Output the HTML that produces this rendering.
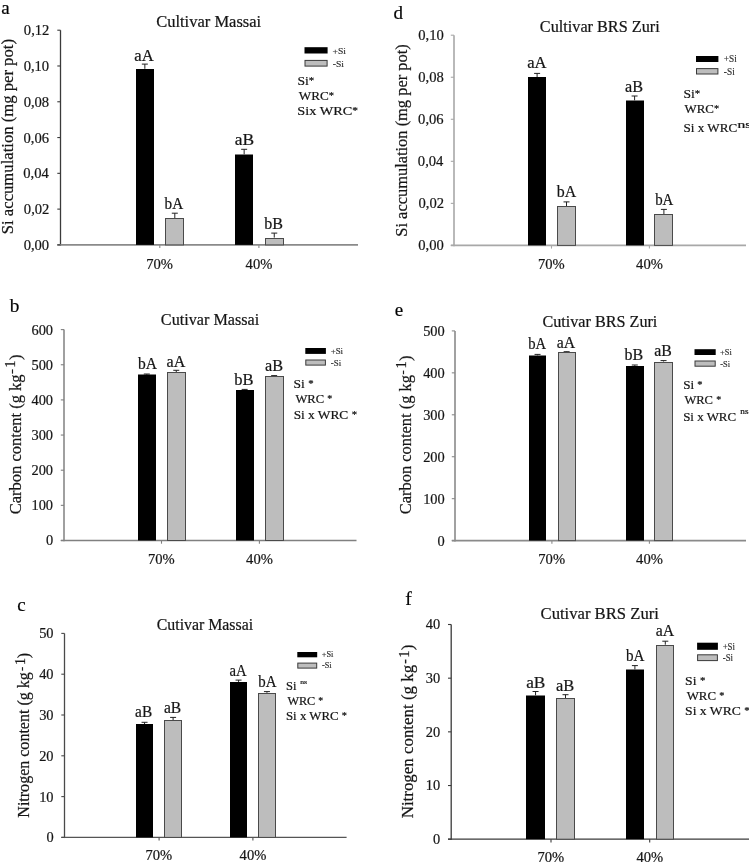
<!DOCTYPE html>
<html><head><meta charset="utf-8"><title>Figure</title>
<style>
html,body{margin:0;padding:0;background:#fff;}
body{width:749px;height:863px;overflow:hidden;}
svg{display:block;filter:blur(0.4px);}
text{white-space:pre;stroke:#1a1a1a;stroke-width:0.22px;}
</style></head><body>
<svg width="749" height="863" viewBox="0 0 749 863">
<rect width="749" height="863" fill="#fff"/>
<line x1="60.50" y1="30.20" x2="60.50" y2="245.55" stroke="#3a3a3a" stroke-width="1.3"/>
<line x1="57.30" y1="244.90" x2="358.00" y2="244.90" stroke="#8a8a8a" stroke-width="1.6"/>
<line x1="57.30" y1="244.90" x2="60.50" y2="244.90" stroke="#3a3a3a" stroke-width="1.1"/>
<text x="23.63" y="249.92" font-family="'Liberation Serif', serif" font-size="14.60" fill="#151515">0,00</text>
<line x1="57.30" y1="209.12" x2="60.50" y2="209.12" stroke="#3a3a3a" stroke-width="1.1"/>
<text x="23.85" y="214.13" font-family="'Liberation Serif', serif" font-size="14.60" fill="#151515">0,02</text>
<line x1="57.30" y1="173.33" x2="60.50" y2="173.33" stroke="#3a3a3a" stroke-width="1.1"/>
<text x="23.27" y="178.35" font-family="'Liberation Serif', serif" font-size="14.60" fill="#151515">0,04</text>
<line x1="57.30" y1="137.55" x2="60.50" y2="137.55" stroke="#3a3a3a" stroke-width="1.1"/>
<text x="23.49" y="142.57" font-family="'Liberation Serif', serif" font-size="14.60" fill="#151515">0,06</text>
<line x1="57.30" y1="101.77" x2="60.50" y2="101.77" stroke="#3a3a3a" stroke-width="1.1"/>
<text x="23.63" y="106.78" font-family="'Liberation Serif', serif" font-size="14.60" fill="#151515">0,08</text>
<line x1="57.30" y1="65.98" x2="60.50" y2="65.98" stroke="#3a3a3a" stroke-width="1.1"/>
<text x="23.63" y="71.00" font-family="'Liberation Serif', serif" font-size="14.60" fill="#151515">0,10</text>
<line x1="57.30" y1="30.20" x2="60.50" y2="30.20" stroke="#3a3a3a" stroke-width="1.1"/>
<text x="23.85" y="35.22" font-family="'Liberation Serif', serif" font-size="14.60" fill="#151515">0,12</text>
<line x1="159.80" y1="244.90" x2="159.80" y2="248.10" stroke="#8a8a8a" stroke-width="1.1"/>
<line x1="258.90" y1="244.90" x2="258.90" y2="248.10" stroke="#8a8a8a" stroke-width="1.1"/>
<text x="146.19" y="268.80" font-family="'Liberation Serif', serif" font-size="14.60" fill="#151515">70%</text>
<text x="245.61" y="268.80" font-family="'Liberation Serif', serif" font-size="14.60" fill="#151515">40%</text>
<line x1="144.85" y1="64.10" x2="144.85" y2="68.80" stroke="#222" stroke-width="1"/>
<line x1="141.85" y1="64.10" x2="147.85" y2="64.10" stroke="#222" stroke-width="1"/>
<rect x="136.00" y="69.00" width="18.00" height="175.90" fill="#000"/>
<text transform="translate(134.37,60.90) scale(1.0198,1)" font-family="'Liberation Serif', serif" font-size="16.30" fill="#151515">aA</text>
<line x1="174.80" y1="213.20" x2="174.80" y2="218.00" stroke="#222" stroke-width="1"/>
<line x1="171.80" y1="213.20" x2="177.80" y2="213.20" stroke="#222" stroke-width="1"/>
<rect x="165.50" y="218.50" width="18.00" height="26.40" fill="#bdbdbd" stroke="#4a4a4a" stroke-width="1"/>
<text transform="translate(164.55,208.60) scale(0.9341,1)" font-family="'Liberation Serif', serif" font-size="16.30" fill="#151515">bA</text>
<line x1="244.15" y1="149.30" x2="244.15" y2="154.30" stroke="#222" stroke-width="1"/>
<line x1="241.15" y1="149.30" x2="247.15" y2="149.30" stroke="#222" stroke-width="1"/>
<rect x="235.00" y="154.50" width="18.00" height="90.40" fill="#000"/>
<text transform="translate(234.74,144.50) scale(1.0662,1)" font-family="'Liberation Serif', serif" font-size="16.30" fill="#151515">aB</text>
<line x1="274.25" y1="233.10" x2="274.25" y2="237.60" stroke="#222" stroke-width="1"/>
<line x1="271.25" y1="233.10" x2="277.25" y2="233.10" stroke="#222" stroke-width="1"/>
<rect x="265.50" y="238.50" width="18.00" height="6.40" fill="#bdbdbd" stroke="#4a4a4a" stroke-width="1"/>
<text transform="translate(264.15,228.60) scale(0.986,1)" font-family="'Liberation Serif', serif" font-size="16.30" fill="#151515">bB</text>
<text transform="translate(156.14,26.70) scale(1.0075,1.0)" font-family="'Liberation Serif', serif" font-size="16.40" fill="#151515">Cultivar Massai</text>
<rect x="304.50" y="47.20" width="23.10" height="6.30" fill="#000"/>
<rect x="305.00" y="60.40" width="22.10" height="5.70" fill="#bdbdbd" stroke="#3a3a3a" stroke-width="1"/>
<text transform="translate(332.51,54.00) scale(1.0,0.85)" font-family="'Liberation Serif', serif" font-size="9.70" fill="#333" style="stroke-width:0.15px">+Si</text>
<text transform="translate(332.66,66.50) scale(1.0,0.85)" font-family="'Liberation Serif', serif" font-size="9.70" fill="#333" style="stroke-width:0.15px">-Si</text>
<text transform="translate(297.41,84.80) scale(1.1090,1)" font-family="'Liberation Serif', serif" font-size="12.30" fill="#151515">Si<tspan font-size="9.84" dy="-0.86">*</tspan></text>
<text transform="translate(298.80,99.80) scale(1.0695,1)" font-family="'Liberation Serif', serif" font-size="12.30" fill="#151515">WRC<tspan font-size="9.84" dy="-0.86">*</tspan></text>
<text transform="translate(297.37,115.30) scale(1.1629,1)" font-family="'Liberation Serif', serif" font-size="12.30" fill="#151515">Six WRC<tspan font-size="9.84" dy="-0.86">*</tspan></text>
<text x="1.33" y="13.50" font-family="'Liberation Serif', serif" font-size="19.00" fill="#000">a</text>
<text transform="translate(12.70,234.18) rotate(-90) scale(1.0010,1.000)" x="0" y="0" font-family="'Liberation Serif', serif" font-size="16.65" fill="#151515">Si accumulation (mg per pot)</text>
<line x1="454.00" y1="35.20" x2="454.00" y2="246.20" stroke="#a8a8a8" stroke-width="1.6"/>
<line x1="450.80" y1="245.40" x2="746.00" y2="245.40" stroke="#a8a8a8" stroke-width="1.6"/>
<line x1="450.80" y1="245.40" x2="454.00" y2="245.40" stroke="#a8a8a8" stroke-width="1.1"/>
<text x="418.23" y="250.42" font-family="'Liberation Serif', serif" font-size="14.60" fill="#151515">0,00</text>
<line x1="450.80" y1="203.36" x2="454.00" y2="203.36" stroke="#a8a8a8" stroke-width="1.1"/>
<text x="418.45" y="208.38" font-family="'Liberation Serif', serif" font-size="14.60" fill="#151515">0,02</text>
<line x1="450.80" y1="161.32" x2="454.00" y2="161.32" stroke="#a8a8a8" stroke-width="1.1"/>
<text x="417.87" y="166.34" font-family="'Liberation Serif', serif" font-size="14.60" fill="#151515">0,04</text>
<line x1="450.80" y1="119.28" x2="454.00" y2="119.28" stroke="#a8a8a8" stroke-width="1.1"/>
<text x="418.09" y="124.30" font-family="'Liberation Serif', serif" font-size="14.60" fill="#151515">0,06</text>
<line x1="450.80" y1="77.24" x2="454.00" y2="77.24" stroke="#a8a8a8" stroke-width="1.1"/>
<text x="418.23" y="82.26" font-family="'Liberation Serif', serif" font-size="14.60" fill="#151515">0,08</text>
<line x1="450.80" y1="35.20" x2="454.00" y2="35.20" stroke="#a8a8a8" stroke-width="1.1"/>
<text x="418.23" y="40.22" font-family="'Liberation Serif', serif" font-size="14.60" fill="#151515">0,10</text>
<line x1="551.50" y1="245.40" x2="551.50" y2="248.60" stroke="#a8a8a8" stroke-width="1.1"/>
<line x1="649.40" y1="245.40" x2="649.40" y2="248.60" stroke="#a8a8a8" stroke-width="1.1"/>
<text x="537.89" y="268.80" font-family="'Liberation Serif', serif" font-size="14.60" fill="#151515">70%</text>
<text x="636.11" y="268.80" font-family="'Liberation Serif', serif" font-size="14.60" fill="#151515">40%</text>
<line x1="537.10" y1="73.40" x2="537.10" y2="77.00" stroke="#222" stroke-width="1"/>
<line x1="534.10" y1="73.40" x2="540.10" y2="73.40" stroke="#222" stroke-width="1"/>
<rect x="528.00" y="77.00" width="18.00" height="168.40" fill="#000"/>
<text transform="translate(527.17,68.20) scale(0.9778,1)" font-family="'Liberation Serif', serif" font-size="17.00" fill="#151515">aA</text>
<line x1="566.50" y1="201.90" x2="566.50" y2="206.30" stroke="#222" stroke-width="1"/>
<line x1="563.50" y1="201.90" x2="569.50" y2="201.90" stroke="#222" stroke-width="1"/>
<rect x="557.50" y="206.50" width="18.00" height="38.90" fill="#bdbdbd" stroke="#4a4a4a" stroke-width="1"/>
<text transform="translate(556.85,197.10) scale(0.9344,1)" font-family="'Liberation Serif', serif" font-size="17.00" fill="#151515">bA</text>
<line x1="634.60" y1="96.00" x2="634.60" y2="100.30" stroke="#222" stroke-width="1"/>
<line x1="631.60" y1="96.00" x2="637.60" y2="96.00" stroke="#222" stroke-width="1"/>
<rect x="626.00" y="100.50" width="18.00" height="144.90" fill="#000"/>
<text transform="translate(624.98,91.50) scale(0.9537,1)" font-family="'Liberation Serif', serif" font-size="17.00" fill="#151515">aB</text>
<line x1="663.90" y1="209.40" x2="663.90" y2="214.10" stroke="#222" stroke-width="1"/>
<line x1="660.90" y1="209.40" x2="666.90" y2="209.40" stroke="#222" stroke-width="1"/>
<rect x="654.50" y="214.50" width="18.00" height="30.90" fill="#bdbdbd" stroke="#4a4a4a" stroke-width="1"/>
<text transform="translate(655.15,204.60) scale(0.8763,1)" font-family="'Liberation Serif', serif" font-size="17.00" fill="#151515">bA</text>
<text transform="translate(539.85,32.10) scale(0.9952,1.0)" font-family="'Liberation Serif', serif" font-size="16.30" fill="#151515">Cultivar BRS Zuri</text>
<rect x="696.00" y="56.00" width="22.40" height="6.00" fill="#000"/>
<rect x="696.50" y="68.60" width="21.40" height="5.40" fill="#bdbdbd" stroke="#3a3a3a" stroke-width="1"/>
<text transform="translate(723.74,61.80) scale(1.0,1.06)" font-family="'Liberation Serif', serif" font-size="9.30" fill="#333" style="stroke-width:0.15px">+Si</text>
<text transform="translate(723.87,74.50) scale(1.0,1.06)" font-family="'Liberation Serif', serif" font-size="9.30" fill="#333" style="stroke-width:0.15px">-Si</text>
<text transform="translate(683.52,98.10) scale(1.0929,1)" font-family="'Liberation Serif', serif" font-size="12.40" fill="#151515">Si<tspan font-size="9.92" dy="-0.87">*</tspan></text>
<text transform="translate(684.60,112.80) scale(1.0394,1)" font-family="'Liberation Serif', serif" font-size="12.40" fill="#151515">WRC<tspan font-size="9.92" dy="-0.87">*</tspan></text>
<text transform="translate(683.55,132.10) scale(1.0563,1.0)" font-family="'Liberation Serif', serif" font-size="12.40" fill="#151515">Si x WRC</text>
<text transform="translate(737.49,128.40) scale(1.5907,1.0)" font-family="'Liberation Serif', serif" font-size="9.79" fill="#151515">ns</text>
<text x="393.53" y="18.50" font-family="'Liberation Serif', serif" font-size="19.00" fill="#000">d</text>
<text transform="translate(406.80,236.67) rotate(-90) scale(1.0016,0.970)" x="0" y="0" font-family="'Liberation Serif', serif" font-size="16.40" fill="#151515">Si accumulation (mg per pot)</text>
<line x1="64.00" y1="329.60" x2="64.00" y2="541.25" stroke="#808080" stroke-width="1.5"/>
<line x1="60.80" y1="540.50" x2="356.50" y2="540.50" stroke="#808080" stroke-width="1.5"/>
<line x1="60.80" y1="540.50" x2="64.00" y2="540.50" stroke="#808080" stroke-width="1.1"/>
<text x="45.88" y="545.45" font-family="'Liberation Serif', serif" font-size="14.40" fill="#151515">0</text>
<line x1="60.80" y1="505.35" x2="64.00" y2="505.35" stroke="#808080" stroke-width="1.1"/>
<text x="31.48" y="510.30" font-family="'Liberation Serif', serif" font-size="14.40" fill="#151515">100</text>
<line x1="60.80" y1="470.20" x2="64.00" y2="470.20" stroke="#808080" stroke-width="1.1"/>
<text x="31.48" y="475.15" font-family="'Liberation Serif', serif" font-size="14.40" fill="#151515">200</text>
<line x1="60.80" y1="435.05" x2="64.00" y2="435.05" stroke="#808080" stroke-width="1.1"/>
<text x="31.48" y="440.00" font-family="'Liberation Serif', serif" font-size="14.40" fill="#151515">300</text>
<line x1="60.80" y1="399.90" x2="64.00" y2="399.90" stroke="#808080" stroke-width="1.1"/>
<text x="31.48" y="404.85" font-family="'Liberation Serif', serif" font-size="14.40" fill="#151515">400</text>
<line x1="60.80" y1="364.75" x2="64.00" y2="364.75" stroke="#808080" stroke-width="1.1"/>
<text x="31.48" y="369.70" font-family="'Liberation Serif', serif" font-size="14.40" fill="#151515">500</text>
<line x1="60.80" y1="329.60" x2="64.00" y2="329.60" stroke="#808080" stroke-width="1.1"/>
<text x="31.48" y="334.55" font-family="'Liberation Serif', serif" font-size="14.40" fill="#151515">600</text>
<line x1="161.50" y1="540.50" x2="161.50" y2="543.70" stroke="#808080" stroke-width="1.1"/>
<line x1="259.40" y1="540.50" x2="259.40" y2="543.70" stroke="#808080" stroke-width="1.1"/>
<text x="147.89" y="564.00" font-family="'Liberation Serif', serif" font-size="14.60" fill="#151515">70%</text>
<text x="246.11" y="564.00" font-family="'Liberation Serif', serif" font-size="14.60" fill="#151515">40%</text>
<line x1="146.80" y1="374.00" x2="146.80" y2="374.70" stroke="#222" stroke-width="1"/>
<line x1="143.80" y1="374.00" x2="149.80" y2="374.00" stroke="#222" stroke-width="1"/>
<rect x="138.00" y="374.50" width="18.00" height="166.00" fill="#000"/>
<text transform="translate(137.95,369.20) scale(0.9722,1)" font-family="'Liberation Serif', serif" font-size="16.00" fill="#151515">bA</text>
<line x1="176.25" y1="370.30" x2="176.25" y2="372.00" stroke="#222" stroke-width="1"/>
<line x1="173.25" y1="370.30" x2="179.25" y2="370.30" stroke="#222" stroke-width="1"/>
<rect x="167.50" y="372.50" width="18.00" height="168.00" fill="#bdbdbd" stroke="#4a4a4a" stroke-width="1"/>
<text transform="translate(166.59,366.60) scale(1.0056,1)" font-family="'Liberation Serif', serif" font-size="16.00" fill="#151515">aA</text>
<line x1="244.65" y1="389.40" x2="244.65" y2="390.00" stroke="#222" stroke-width="1"/>
<line x1="241.65" y1="389.40" x2="247.65" y2="389.40" stroke="#222" stroke-width="1"/>
<rect x="236.00" y="390.00" width="18.00" height="150.50" fill="#000"/>
<text transform="translate(234.15,385.00) scale(1.0324,1)" font-family="'Liberation Serif', serif" font-size="16.00" fill="#151515">bB</text>
<line x1="274.15" y1="375.60" x2="274.15" y2="376.40" stroke="#222" stroke-width="1"/>
<line x1="271.15" y1="375.60" x2="277.15" y2="375.60" stroke="#222" stroke-width="1"/>
<rect x="265.50" y="376.50" width="18.00" height="164.00" fill="#bdbdbd" stroke="#4a4a4a" stroke-width="1"/>
<text transform="translate(264.98,370.70) scale(1.0133,1)" font-family="'Liberation Serif', serif" font-size="16.00" fill="#151515">aB</text>
<text transform="translate(160.85,325.30) scale(0.9928,1.0)" font-family="'Liberation Serif', serif" font-size="16.30" fill="#151515">Cutivar Massai</text>
<rect x="305.30" y="348.00" width="20.60" height="5.90" fill="#000"/>
<rect x="305.80" y="360.00" width="19.60" height="5.10" fill="#bdbdbd" stroke="#3a3a3a" stroke-width="1"/>
<text transform="translate(330.66,353.90) scale(1.0,0.87)" font-family="'Liberation Serif', serif" font-size="8.90" fill="#333" style="stroke-width:0.15px">+Si</text>
<text transform="translate(330.79,365.60) scale(1.0,0.87)" font-family="'Liberation Serif', serif" font-size="8.90" fill="#333" style="stroke-width:0.15px">-Si</text>
<text transform="translate(293.62,388.00) scale(1.0966,1)" font-family="'Liberation Serif', serif" font-size="12.30" fill="#151515">Si <tspan font-size="9.84" dy="-0.86">*</tspan></text>
<text transform="translate(295.40,403.00) scale(1.0247,1)" font-family="'Liberation Serif', serif" font-size="12.30" fill="#151515">WRC <tspan font-size="9.84" dy="-0.86">*</tspan></text>
<text transform="translate(293.63,418.90) scale(1.0866,1)" font-family="'Liberation Serif', serif" font-size="12.30" fill="#151515">Si x WRC <tspan font-size="9.84" dy="-0.86">*</tspan></text>
<text x="9.70" y="311.50" font-family="'Liberation Serif', serif" font-size="19.30" fill="#000">b</text>
<text transform="translate(20.80,514.36) rotate(-90) scale(0.9994,1.000)" x="0" y="0" font-family="'Liberation Serif', serif" font-size="16.55" fill="#151515">Carbon content (g kg</text>
<text transform="translate(15.40,373.92) rotate(-90) scale(1.1111,1.000)" x="0" y="0" font-family="'Liberation Serif', serif" font-size="13.50" fill="#151515">-</text>
<text transform="translate(15.40,367.63) rotate(-90) scale(1.0000,1.000)" x="0" y="0" font-family="'Liberation Serif', serif" font-size="14.50" fill="#151515">1</text>
<text transform="translate(20.80,360.00) rotate(-90) scale(1.0000,1.000)" x="0" y="0" font-family="'Liberation Serif', serif" font-size="16.55" fill="#151515">)</text>
<line x1="455.00" y1="330.90" x2="455.00" y2="541.40" stroke="#8a8a8a" stroke-width="1.6"/>
<line x1="451.80" y1="540.60" x2="746.00" y2="540.60" stroke="#8a8a8a" stroke-width="1.6"/>
<line x1="451.80" y1="540.60" x2="455.00" y2="540.60" stroke="#8a8a8a" stroke-width="1.1"/>
<text x="437.58" y="545.55" font-family="'Liberation Serif', serif" font-size="14.40" fill="#151515">0</text>
<line x1="451.80" y1="498.66" x2="455.00" y2="498.66" stroke="#8a8a8a" stroke-width="1.1"/>
<text x="423.18" y="503.61" font-family="'Liberation Serif', serif" font-size="14.40" fill="#151515">100</text>
<line x1="451.80" y1="456.72" x2="455.00" y2="456.72" stroke="#8a8a8a" stroke-width="1.1"/>
<text x="423.18" y="461.67" font-family="'Liberation Serif', serif" font-size="14.40" fill="#151515">200</text>
<line x1="451.80" y1="414.78" x2="455.00" y2="414.78" stroke="#8a8a8a" stroke-width="1.1"/>
<text x="423.18" y="419.73" font-family="'Liberation Serif', serif" font-size="14.40" fill="#151515">300</text>
<line x1="451.80" y1="372.84" x2="455.00" y2="372.84" stroke="#8a8a8a" stroke-width="1.1"/>
<text x="423.18" y="377.79" font-family="'Liberation Serif', serif" font-size="14.40" fill="#151515">400</text>
<line x1="451.80" y1="330.90" x2="455.00" y2="330.90" stroke="#8a8a8a" stroke-width="1.1"/>
<text x="423.18" y="335.85" font-family="'Liberation Serif', serif" font-size="14.40" fill="#151515">500</text>
<line x1="551.90" y1="540.60" x2="551.90" y2="543.80" stroke="#8a8a8a" stroke-width="1.1"/>
<line x1="649.40" y1="540.60" x2="649.40" y2="543.80" stroke="#8a8a8a" stroke-width="1.1"/>
<text x="538.29" y="564.00" font-family="'Liberation Serif', serif" font-size="14.60" fill="#151515">70%</text>
<text x="636.11" y="564.00" font-family="'Liberation Serif', serif" font-size="14.60" fill="#151515">40%</text>
<line x1="537.55" y1="354.40" x2="537.55" y2="355.30" stroke="#222" stroke-width="1"/>
<line x1="534.55" y1="354.40" x2="540.55" y2="354.40" stroke="#222" stroke-width="1"/>
<rect x="529.00" y="355.50" width="17.00" height="185.10" fill="#000"/>
<text transform="translate(528.25,349.40) scale(0.9156,1)" font-family="'Liberation Serif', serif" font-size="16.00" fill="#151515">bA</text>
<line x1="566.65" y1="351.70" x2="566.65" y2="352.50" stroke="#222" stroke-width="1"/>
<line x1="563.65" y1="351.70" x2="569.65" y2="351.70" stroke="#222" stroke-width="1"/>
<rect x="558.50" y="352.50" width="17.00" height="188.10" fill="#bdbdbd" stroke="#4a4a4a" stroke-width="1"/>
<text transform="translate(556.80,347.80) scale(0.9889,1)" font-family="'Liberation Serif', serif" font-size="16.00" fill="#151515">aA</text>
<line x1="634.80" y1="365.00" x2="634.80" y2="365.90" stroke="#222" stroke-width="1"/>
<line x1="631.80" y1="365.00" x2="637.80" y2="365.00" stroke="#222" stroke-width="1"/>
<rect x="626.00" y="366.00" width="18.00" height="174.60" fill="#000"/>
<text transform="translate(624.45,360.30) scale(0.9989,1)" font-family="'Liberation Serif', serif" font-size="16.00" fill="#151515">bB</text>
<line x1="663.55" y1="360.60" x2="663.55" y2="361.50" stroke="#222" stroke-width="1"/>
<line x1="660.55" y1="360.60" x2="666.55" y2="360.60" stroke="#222" stroke-width="1"/>
<rect x="654.50" y="362.50" width="18.00" height="178.10" fill="#bdbdbd" stroke="#4a4a4a" stroke-width="1"/>
<text transform="translate(654.20,355.60) scale(0.9891,1)" font-family="'Liberation Serif', serif" font-size="16.00" fill="#151515">aB</text>
<text transform="translate(542.45,326.60) scale(0.9922,1.0)" font-family="'Liberation Serif', serif" font-size="16.30" fill="#151515">Cutivar BRS Zuri</text>
<rect x="694.50" y="349.20" width="21.20" height="5.80" fill="#000"/>
<rect x="695.00" y="361.00" width="20.20" height="5.20" fill="#bdbdbd" stroke="#3a3a3a" stroke-width="1"/>
<text transform="translate(720.08,354.80) scale(1.0,0.92)" font-family="'Liberation Serif', serif" font-size="8.40" fill="#333" style="stroke-width:0.15px">+Si</text>
<text transform="translate(720.21,366.70) scale(1.0,0.92)" font-family="'Liberation Serif', serif" font-size="8.40" fill="#333" style="stroke-width:0.15px">-Si</text>
<text transform="translate(683.15,389.00) scale(1.0500,1)" font-family="'Liberation Serif', serif" font-size="12.50" fill="#151515">Si <tspan font-size="10.00" dy="-0.88">*</tspan></text>
<text transform="translate(684.40,404.10) scale(1.0056,1)" font-family="'Liberation Serif', serif" font-size="12.50" fill="#151515">WRC <tspan font-size="10.00" dy="-0.88">*</tspan></text>
<text transform="translate(683.16,420.70) scale(1.0358,1.0)" font-family="'Liberation Serif', serif" font-size="12.50" fill="#151515">Si x WRC</text>
<text transform="translate(740.32,413.50) scale(1.2383,1.0)" font-family="'Liberation Serif', serif" font-size="7.45" fill="#151515">ns</text>
<text x="394.74" y="316.40" font-family="'Liberation Serif', serif" font-size="19.00" fill="#000">e</text>
<text transform="translate(411.40,514.26) rotate(-90) scale(0.9966,1.000)" x="0" y="0" font-family="'Liberation Serif', serif" font-size="16.50" fill="#151515">Carbon content (g kg</text>
<text transform="translate(406.30,374.43) rotate(-90) scale(0.9117,1.000)" x="0" y="0" font-family="'Liberation Serif', serif" font-size="13.50" fill="#151515">-</text>
<text transform="translate(406.30,368.53) rotate(-90) scale(1.0000,1.000)" x="0" y="0" font-family="'Liberation Serif', serif" font-size="14.50" fill="#151515">1</text>
<text transform="translate(411.40,361.09) rotate(-90) scale(1.0000,1.000)" x="0" y="0" font-family="'Liberation Serif', serif" font-size="16.50" fill="#151515">)</text>
<line x1="64.50" y1="633.40" x2="64.50" y2="838.05" stroke="#4a4a4a" stroke-width="1.3"/>
<line x1="61.30" y1="837.40" x2="346.60" y2="837.40" stroke="#555" stroke-width="1.4"/>
<line x1="61.30" y1="837.40" x2="64.50" y2="837.40" stroke="#4a4a4a" stroke-width="1.1"/>
<text x="46.38" y="842.35" font-family="'Liberation Serif', serif" font-size="14.40" fill="#151515">0</text>
<line x1="61.30" y1="796.60" x2="64.50" y2="796.60" stroke="#4a4a4a" stroke-width="1.1"/>
<text x="39.18" y="801.55" font-family="'Liberation Serif', serif" font-size="14.40" fill="#151515">10</text>
<line x1="61.30" y1="755.80" x2="64.50" y2="755.80" stroke="#4a4a4a" stroke-width="1.1"/>
<text x="39.18" y="760.75" font-family="'Liberation Serif', serif" font-size="14.40" fill="#151515">20</text>
<line x1="61.30" y1="715.00" x2="64.50" y2="715.00" stroke="#4a4a4a" stroke-width="1.1"/>
<text x="39.18" y="719.95" font-family="'Liberation Serif', serif" font-size="14.40" fill="#151515">30</text>
<line x1="61.30" y1="674.20" x2="64.50" y2="674.20" stroke="#4a4a4a" stroke-width="1.1"/>
<text x="39.18" y="679.15" font-family="'Liberation Serif', serif" font-size="14.40" fill="#151515">40</text>
<line x1="61.30" y1="633.40" x2="64.50" y2="633.40" stroke="#4a4a4a" stroke-width="1.1"/>
<text x="39.18" y="638.35" font-family="'Liberation Serif', serif" font-size="14.40" fill="#151515">50</text>
<line x1="159.10" y1="837.40" x2="159.10" y2="840.60" stroke="#555" stroke-width="1.1"/>
<line x1="252.90" y1="837.40" x2="252.90" y2="840.60" stroke="#555" stroke-width="1.1"/>
<text x="145.49" y="860.30" font-family="'Liberation Serif', serif" font-size="14.60" fill="#151515">70%</text>
<text x="239.61" y="860.30" font-family="'Liberation Serif', serif" font-size="14.60" fill="#151515">40%</text>
<line x1="144.55" y1="722.30" x2="144.55" y2="724.10" stroke="#222" stroke-width="1"/>
<line x1="141.55" y1="722.30" x2="147.55" y2="722.30" stroke="#222" stroke-width="1"/>
<rect x="136.00" y="724.00" width="17.00" height="113.40" fill="#000"/>
<text transform="translate(135.11,716.70) scale(0.9023,1)" font-family="'Liberation Serif', serif" font-size="17.00" fill="#151515">aB</text>
<line x1="173.10" y1="717.40" x2="173.10" y2="720.20" stroke="#222" stroke-width="1"/>
<line x1="170.10" y1="717.40" x2="176.10" y2="717.40" stroke="#222" stroke-width="1"/>
<rect x="164.50" y="720.50" width="17.00" height="116.90" fill="#bdbdbd" stroke="#4a4a4a" stroke-width="1"/>
<text transform="translate(163.91,713.40) scale(0.9138,1)" font-family="'Liberation Serif', serif" font-size="17.00" fill="#151515">aB</text>
<line x1="238.55" y1="680.10" x2="238.55" y2="681.90" stroke="#222" stroke-width="1"/>
<line x1="235.55" y1="680.10" x2="241.55" y2="680.10" stroke="#222" stroke-width="1"/>
<rect x="230.00" y="682.00" width="17.00" height="155.40" fill="#000"/>
<text transform="translate(229.44,675.60) scale(0.8627,1)" font-family="'Liberation Serif', serif" font-size="17.00" fill="#151515">aA</text>
<line x1="266.95" y1="691.60" x2="266.95" y2="692.80" stroke="#222" stroke-width="1"/>
<line x1="263.95" y1="691.60" x2="269.95" y2="691.60" stroke="#222" stroke-width="1"/>
<rect x="258.50" y="693.50" width="17.00" height="143.90" fill="#bdbdbd" stroke="#4a4a4a" stroke-width="1"/>
<text transform="translate(258.25,687.20) scale(0.8763,1)" font-family="'Liberation Serif', serif" font-size="17.00" fill="#151515">bA</text>
<text transform="translate(156.77,630.00) scale(0.9845,1.0)" font-family="'Liberation Serif', serif" font-size="16.10" fill="#151515">Cutivar Massai</text>
<rect x="297.30" y="652.00" width="19.90" height="5.30" fill="#000"/>
<rect x="297.80" y="663.10" width="18.90" height="5.00" fill="#bdbdbd" stroke="#3a3a3a" stroke-width="1"/>
<text transform="translate(321.78,657.10) scale(1.0,1.02)" font-family="'Liberation Serif', serif" font-size="8.35" fill="#333" style="stroke-width:0.15px">+Si</text>
<text transform="translate(321.91,668.30) scale(1.0,1.02)" font-family="'Liberation Serif', serif" font-size="8.35" fill="#333" style="stroke-width:0.15px">-Si</text>
<text transform="translate(285.99,690.20) scale(1.0444,1.0)" font-family="'Liberation Serif', serif" font-size="12.00" fill="#151515">Si</text>
<text transform="translate(300.25,683.90) scale(1.0916,1.0)" font-family="'Liberation Serif', serif" font-size="7.02" fill="#151515">ns</text>
<text transform="translate(287.40,704.80) scale(1.0215,1)" font-family="'Liberation Serif', serif" font-size="12.00" fill="#151515">WRC <tspan font-size="9.60" dy="-0.84">*</tspan></text>
<text transform="translate(285.96,719.80) scale(1.0707,1)" font-family="'Liberation Serif', serif" font-size="12.00" fill="#151515">Si x WRC <tspan font-size="9.60" dy="-0.84">*</tspan></text>
<text x="17.24" y="610.60" font-family="'Liberation Serif', serif" font-size="19.00" fill="#000">c</text>
<text transform="translate(29.00,817.68) rotate(-90) scale(1.0022,1.000)" x="0" y="0" font-family="'Liberation Serif', serif" font-size="16.00" fill="#151515">Nitrogen content (g kg</text>
<text transform="translate(24.50,670.93) rotate(-90) scale(0.9467,1.000)" x="0" y="0" font-family="'Liberation Serif', serif" font-size="13.00" fill="#151515">-</text>
<text transform="translate(24.50,664.99) rotate(-90) scale(1.0000,1.000)" x="0" y="0" font-family="'Liberation Serif', serif" font-size="14.00" fill="#151515">1</text>
<text transform="translate(29.00,658.28) rotate(-90) scale(1.0000,1.000)" x="0" y="0" font-family="'Liberation Serif', serif" font-size="16.00" fill="#151515">)</text>
<line x1="451.20" y1="624.50" x2="451.20" y2="839.85" stroke="#3a3a3a" stroke-width="1.3"/>
<line x1="448.00" y1="839.20" x2="760.00" y2="839.20" stroke="#3a3a3a" stroke-width="1.3"/>
<line x1="448.00" y1="839.20" x2="451.20" y2="839.20" stroke="#3a3a3a" stroke-width="1.1"/>
<text x="432.98" y="844.15" font-family="'Liberation Serif', serif" font-size="14.40" fill="#151515">0</text>
<line x1="448.00" y1="785.53" x2="451.20" y2="785.53" stroke="#3a3a3a" stroke-width="1.1"/>
<text x="425.78" y="790.48" font-family="'Liberation Serif', serif" font-size="14.40" fill="#151515">10</text>
<line x1="448.00" y1="731.85" x2="451.20" y2="731.85" stroke="#3a3a3a" stroke-width="1.1"/>
<text x="425.78" y="736.80" font-family="'Liberation Serif', serif" font-size="14.40" fill="#151515">20</text>
<line x1="448.00" y1="678.17" x2="451.20" y2="678.17" stroke="#3a3a3a" stroke-width="1.1"/>
<text x="425.78" y="683.13" font-family="'Liberation Serif', serif" font-size="14.40" fill="#151515">30</text>
<line x1="448.00" y1="624.50" x2="451.20" y2="624.50" stroke="#3a3a3a" stroke-width="1.1"/>
<text x="425.78" y="629.45" font-family="'Liberation Serif', serif" font-size="14.40" fill="#151515">40</text>
<line x1="551.00" y1="839.20" x2="551.00" y2="842.40" stroke="#3a3a3a" stroke-width="1.1"/>
<line x1="649.70" y1="839.20" x2="649.70" y2="842.40" stroke="#3a3a3a" stroke-width="1.1"/>
<text x="537.39" y="862.30" font-family="'Liberation Serif', serif" font-size="14.60" fill="#151515">70%</text>
<text x="636.41" y="862.30" font-family="'Liberation Serif', serif" font-size="14.60" fill="#151515">40%</text>
<line x1="535.55" y1="691.50" x2="535.55" y2="695.30" stroke="#222" stroke-width="1"/>
<line x1="532.55" y1="691.50" x2="538.55" y2="691.50" stroke="#222" stroke-width="1"/>
<rect x="526.00" y="695.50" width="19.00" height="143.70" fill="#000"/>
<text transform="translate(526.14,687.50) scale(1.0166,1)" font-family="'Liberation Serif', serif" font-size="17.00" fill="#151515">aB</text>
<line x1="565.50" y1="694.70" x2="565.50" y2="698.40" stroke="#222" stroke-width="1"/>
<line x1="562.50" y1="694.70" x2="568.50" y2="694.70" stroke="#222" stroke-width="1"/>
<rect x="556.50" y="698.50" width="18.00" height="140.70" fill="#bdbdbd" stroke="#4a4a4a" stroke-width="1"/>
<text transform="translate(556.08,690.60) scale(0.9652,1)" font-family="'Liberation Serif', serif" font-size="17.00" fill="#151515">aB</text>
<line x1="634.90" y1="665.60" x2="634.90" y2="669.40" stroke="#222" stroke-width="1"/>
<line x1="631.90" y1="665.60" x2="637.90" y2="665.60" stroke="#222" stroke-width="1"/>
<rect x="626.00" y="669.50" width="18.00" height="169.70" fill="#000"/>
<text transform="translate(626.05,660.90) scale(0.8908,1)" font-family="'Liberation Serif', serif" font-size="17.00" fill="#151515">bA</text>
<line x1="665.30" y1="641.20" x2="665.30" y2="644.70" stroke="#222" stroke-width="1"/>
<line x1="662.30" y1="641.20" x2="668.30" y2="641.20" stroke="#222" stroke-width="1"/>
<rect x="656.50" y="645.50" width="17.00" height="193.70" fill="#bdbdbd" stroke="#4a4a4a" stroke-width="1"/>
<text transform="translate(655.80,636.30) scale(0.9307,1)" font-family="'Liberation Serif', serif" font-size="17.00" fill="#151515">aA</text>
<text transform="translate(540.53,618.70) scale(1.0218,1.0)" font-family="'Liberation Serif', serif" font-size="16.30" fill="#151515">Cutivar BRS Zuri</text>
<rect x="697.10" y="642.70" width="20.80" height="7.10" fill="#000"/>
<rect x="697.60" y="654.80" width="19.80" height="5.80" fill="#bdbdbd" stroke="#3a3a3a" stroke-width="1"/>
<text transform="translate(722.66,649.60) scale(1.0,1.17)" font-family="'Liberation Serif', serif" font-size="8.80" fill="#333" style="stroke-width:0.15px">+Si</text>
<text transform="translate(722.79,661.30) scale(1.0,1.17)" font-family="'Liberation Serif', serif" font-size="8.80" fill="#333" style="stroke-width:0.15px">-Si</text>
<text transform="translate(685.11,684.70) scale(1.0907,1)" font-family="'Liberation Serif', serif" font-size="12.50" fill="#151515">Si <tspan font-size="10.00" dy="-0.88">*</tspan></text>
<text transform="translate(686.70,699.70) scale(1.0305,1)" font-family="'Liberation Serif', serif" font-size="12.50" fill="#151515">WRC <tspan font-size="10.00" dy="-0.88">*</tspan></text>
<text transform="translate(685.11,715.10) scale(1.0899,1)" font-family="'Liberation Serif', serif" font-size="12.50" fill="#151515">Si x WRC <tspan font-size="10.00" dy="-0.88">*</tspan></text>
<text x="405.22" y="605.30" font-family="'Liberation Serif', serif" font-size="19.50" fill="#000">f</text>
<text transform="translate(413.30,818.31) rotate(-90) scale(1.0006,1.000)" x="0" y="0" font-family="'Liberation Serif', serif" font-size="16.90" fill="#151515">Nitrogen content (g kg</text>
<text transform="translate(409.00,663.68) rotate(-90) scale(1.0107,1.000)" x="0" y="0" font-family="'Liberation Serif', serif" font-size="13.70" fill="#151515">-</text>
<text transform="translate(409.00,657.75) rotate(-90) scale(1.0000,1.000)" x="0" y="0" font-family="'Liberation Serif', serif" font-size="14.70" fill="#151515">1</text>
<text transform="translate(413.30,650.31) rotate(-90) scale(1.0000,1.000)" x="0" y="0" font-family="'Liberation Serif', serif" font-size="16.90" fill="#151515">)</text>
</svg>
</body></html>
